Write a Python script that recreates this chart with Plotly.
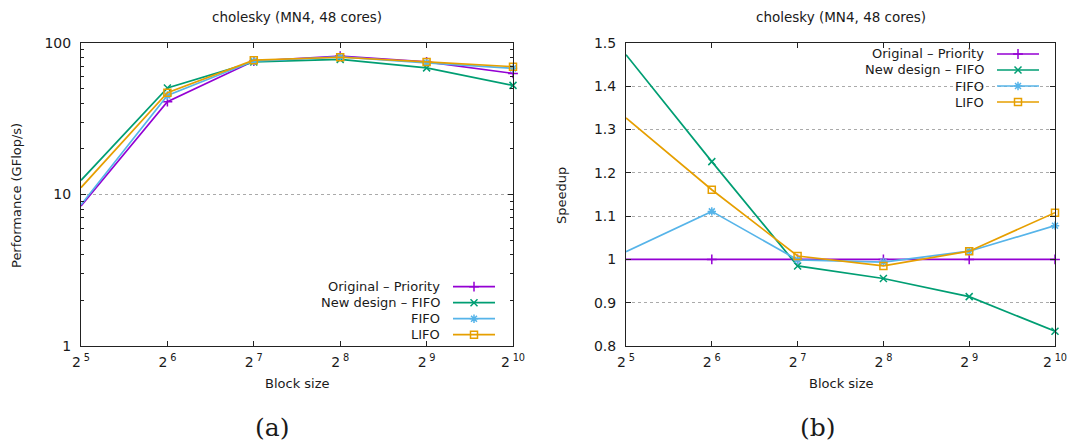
import plotly.graph_objects as go

# ---------------- data ----------------
block_sizes = [32, 64, 128, 256, 512, 1024]
tick_labels = ["2\u2009<sup>5</sup>", "2\u2009<sup>6</sup>", "2\u2009<sup>7</sup>",
               "2\u2009<sup>8</sup>", "2\u2009<sup>9</sup>", "2\u2009<sup>10</sup>"]
series_names = ["Original – Priority", "New design – FIFO", "FIFO", "LIFO"]

perf_original = [8.4, 41, 76, 82, 75, 63]
perf_newdesign = [12.4, 50.5, 75, 78, 68.5, 52.5]
perf_fifo = [8.55, 45, 76, 81, 74, 68]
perf_lifo = [11.1, 47, 77, 80.5, 75, 69.8]

speedup_original = [1.0, 1.0, 1.0, 1.0, 1.0, 1.0]
speedup_newdesign = [1.473, 1.226, 0.985, 0.956, 0.914, 0.834]
speedup_fifo = [1.018, 1.111, 0.999, 0.994, 1.019, 1.078]
speedup_lifo = [1.327, 1.161, 1.008, 0.985, 1.019, 1.108]

colors = ["#9400d3", "#009e73", "#56b4e9", "#e69f00"]
symbols = ["cross-thin-open", "x-thin-open", "asterisk-open", "square-open"]

W, H = 1070, 444
def px(x):
    return x / W
def py(y):
    return 1 - y / H

FONT = "DejaVu Sans, Liberation Sans, sans-serif"
TXT = "#1a1a1a"

fig = go.Figure()

perf = [perf_original, perf_newdesign, perf_fifo, perf_lifo]
spd = [speedup_original, speedup_newdesign, speedup_fifo, speedup_lifo]

left_rows = [286.7, 302.7, 318.7, 334.7]
right_rows = [54, 70, 86, 102]

legend_layouts = {}
def legend_name(k):
    return "legend" if k == 1 else f"legend{k}"

for i in range(4):
    lg = legend_name(i + 1)
    fig.add_trace(go.Scatter(
        x=block_sizes, y=perf[i], mode="lines+markers", name="",
        line=dict(color=colors[i], width=1.7),
        marker=dict(symbol=symbols[i], size=7, color=colors[i],
                    line=dict(color=colors[i], width=1.5)),
        xaxis="x", yaxis="y", legend=lg, cliponaxis=False,
    ))
    legend_layouts[lg] = dict(x=px(448), y=py(left_rows[i]), xanchor="left", yanchor="middle",
                              bgcolor="rgba(0,0,0,0)", borderwidth=0,
                              font=dict(family=FONT, size=11), itemwidth=42)
for i in range(4):
    lg = legend_name(i + 5)
    fig.add_trace(go.Scatter(
        x=block_sizes, y=spd[i], mode="lines+markers", name="",
        line=dict(color=colors[i], width=1.7),
        marker=dict(symbol=symbols[i], size=7, color=colors[i],
                    line=dict(color=colors[i], width=1.5)),
        xaxis="x2", yaxis="y2", legend=lg, cliponaxis=False,
    ))
    legend_layouts[lg] = dict(x=px(992), y=py(right_rows[i]), xanchor="left", yanchor="middle",
                              bgcolor="rgba(0,0,0,0)", borderwidth=0,
                              font=dict(family=FONT, size=11), itemwidth=42)

ydom = [py(346), py(43)]
common_x = dict(
    type="log", range=[1.50515, 3.0103],
    tickmode="array", tickvals=block_sizes, ticktext=tick_labels,
    ticks="inside", ticklen=5, tickcolor="#222",
    showline=True, linecolor="#222", linewidth=1, mirror="ticks",
    showgrid=False, zeroline=False,
    tickfont=dict(family=FONT, size=14, color=TXT),
    ticklabelstandoff=3,
)
fig.update_layout(
    width=W, height=H, autosize=False,
    margin=dict(l=0, r=0, t=0, b=0, autoexpand=False),
    paper_bgcolor="white", plot_bgcolor="white",
    xaxis=dict(domain=[px(81), px(513)], anchor="y", **common_x),
    xaxis2=dict(domain=[px(626), px(1055)], anchor="y2", **common_x),
    yaxis=dict(
        domain=ydom, anchor="x", type="log", range=[0, 2],
        tickmode="array", tickvals=[1, 10, 100], ticktext=["1", "10", "100"],
        ticks="inside", ticklen=5, tickcolor="#222",
        minor=dict(tickmode="array",
                   tickvals=[2, 3, 4, 5, 6, 7, 8, 9, 20, 30, 40, 50, 60, 70, 80, 90],
                   ticks="inside", ticklen=3, tickcolor="#222", showgrid=False),
        showline=True, linecolor="#222", linewidth=1, mirror="ticks",
        showgrid=True, gridcolor="#aaaaaa", griddash="dot", gridwidth=1,
        zeroline=False,
        tickfont=dict(family=FONT, size=14, color=TXT),
        ticklabelstandoff=6,
    ),
    yaxis2=dict(
        domain=ydom, anchor="x2", range=[0.8, 1.5],
        tickmode="array", tickvals=[0.8, 0.9, 1.0, 1.1, 1.2, 1.3, 1.4, 1.5],
        ticktext=["0.8", "0.9", "1", "1.1", "1.2", "1.3", "1.4", "1.5"],
        ticks="inside", ticklen=5, tickcolor="#222",
        showline=True, linecolor="#222", linewidth=1, mirror="ticks",
        showgrid=True, gridcolor="#aaaaaa", griddash="dot", gridwidth=1,
        zeroline=False,
        tickfont=dict(family=FONT, size=14, color=TXT),
        ticklabelstandoff=6,
    ),
    showlegend=True,
    **legend_layouts,
)

# key box of the right panel (hides grid behind the key)
fig.add_shape(type="rect", xref="paper", yref="paper",
              x0=px(795), x1=px(1043), y0=py(110), y1=py(46),
              fillcolor="white", line=dict(width=0), layer="between")

ann = []
def text(x, y, s, size=13, anchor="center", angle=0, family=FONT):
    ann.append(dict(x=px(x), y=py(y), xref="paper", yref="paper", text=s,
                    showarrow=False, xanchor=anchor, yanchor="middle",
                    textangle=angle, font=dict(family=family, size=size, color=TXT)))

text(297, 17, "cholesky (MN4, 48 cores)", size=13.5)
text(841, 17, "cholesky (MN4, 48 cores)", size=13.5)
text(297, 383, "Block size")
text(841, 383, "Block size")
text(17, 196, "Performance (GFlop/s)", angle=-90)
text(562, 196, "Speedup", angle=-90)
text(272, 427, "(a)", size=25, family="DejaVu Serif, Liberation Serif, serif")
text(818, 427, "(b)", size=25, family="DejaVu Serif, Liberation Serif, serif")

for name, y in zip(series_names, left_rows):
    text(442, y, name, anchor="right")
for name, y in zip(series_names, right_rows):
    text(986, y, name, anchor="right")

fig.update_layout(annotations=ann)
fig.write_html("out.html")
